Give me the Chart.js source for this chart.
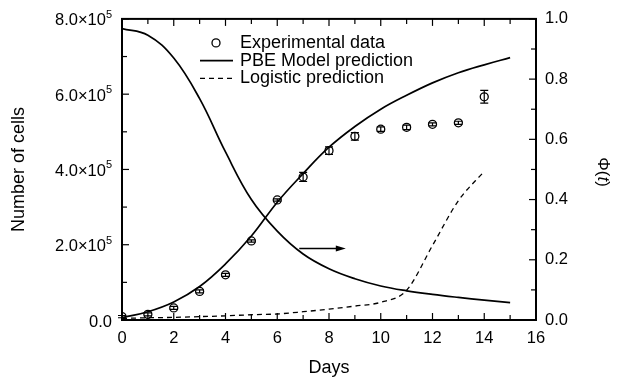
<!DOCTYPE html>
<html>
<head>
<meta charset="utf-8">
<script src="https://cdn.jsdelivr.net/npm/chart.js@4.4.1/dist/chart.umd.min.js"></script>
<style>
  html, body { margin: 0; padding: 0; background: #fff; }
  #chart-canvas { display: block; }
</style>
</head>
<body>
<canvas id="chart-canvas" width="618" height="380"></canvas>
<script>
// measured cell counts (mean and error) per day
const days = [0, 1, 2, 3, 4, 5, 6, 7, 8, 9, 10, 11, 12, 13, 14];
const cellsMean = [9000, 15000, 32000, 76000, 120000, 210000, 319000, 380000, 450000, 488000, 507000, 512000, 520000, 524000, 593000];
const cellsErr = [3000, 4000, 4000, 4000, 4000, 3000, 3000, 12000, 10000, 10000, 6000, 6000, 4000, 4000, 17000];

// PBE model and Phi(t) curves
const modelDays = [0, 1, 2, 3, 4, 5, 6, 7, 8, 9, 10, 11, 12, 13, 14, 15];
const pbeCells = [6000, 22000, 48000, 89000, 149000, 223000, 313000, 389000, 459000, 514000, 560000, 597000, 630000, 657000, 678000, 697000];
const phiValues = [0.968, 0.946, 0.87, 0.735, 0.558, 0.40, 0.295, 0.219, 0.17, 0.137, 0.113, 0.097, 0.085, 0.075, 0.066, 0.058];

// logistic fit
const logisticDays = [0, 1, 2, 3, 4, 5, 6, 7, 8, 9, 10, 11, 12, 13, 14];
const logisticCells = [4000, 6000, 7000, 9000, 11000, 14000, 16000, 22000, 29000, 37000, 47000, 79000, 198000, 317000, 395000];

// axis ticks
const cellTicks = [0, 200000, 400000, 600000, 800000];
const dayTicks = [0, 2, 4, 6, 8, 10, 12, 14, 16];
const phiTicks = [0, 0.2, 0.4, 0.6, 0.8, 1.0];

// arrow pointing at the right-hand axis
const arrowFrom = 6.85, arrowTo = 8.65, arrowLevel = 190000;

const FONT = '"Liberation Sans", Arial, Helvetica, sans-serif';

const pts = (xs, ys) => xs.map((x, i) => ({ x: x, y: ys[i] }));

const frameAndTicks = {
  id: 'frameAndTicks',
  afterDatasetsDraw(chart) {
    const { ctx, scales } = chart;
    const meta = chart.getDatasetMeta(0);
    ctx.save();
    ctx.strokeStyle = '#000';
    ctx.lineWidth = 1.2;
    meta.data.forEach((p, i) => {
      const top = scales.y.getPixelForValue(cellsMean[i] + cellsErr[i]);
      const bot = scales.y.getPixelForValue(cellsMean[i] - cellsErr[i]);
      ctx.beginPath();
      ctx.moveTo(p.x, top); ctx.lineTo(p.x, bot);
      ctx.moveTo(p.x - 4, top); ctx.lineTo(p.x + 4, top);
      ctx.moveTo(p.x - 4, bot); ctx.lineTo(p.x + 4, bot);
      ctx.stroke();
    });

    // arrow
    const ay = scales.y.getPixelForValue(arrowLevel);
    const ax0 = scales.x.getPixelForValue(arrowFrom);
    const ax1 = scales.x.getPixelForValue(arrowTo);
    ctx.lineWidth = 1.3;
    ctx.beginPath();
    ctx.moveTo(ax0, ay); ctx.lineTo(ax1 - 8, ay);
    ctx.stroke();
    ctx.fillStyle = '#000';
    ctx.beginPath();
    ctx.moveTo(ax1, ay); ctx.lineTo(ax1 - 10, ay - 3); ctx.lineTo(ax1 - 10, ay + 3);
    ctx.closePath();
    ctx.fill();
    ctx.restore();
  },
  afterDraw(chart) {
    const { ctx, chartArea: a, scales } = chart;
    ctx.save();
    ctx.strokeStyle = '#000';
    ctx.fillStyle = '#000';
    ctx.lineWidth = 1.2;
    const seg = (x0, y0, x1, y1) => { ctx.beginPath(); ctx.moveTo(x0, y0); ctx.lineTo(x1, y1); ctx.stroke(); };

    for (let d = 0; d <= 16; d++) {
      const x = scales.x.getPixelForValue(d);
      const len = d % 2 === 0 ? 7 : 5;
      seg(x, a.bottom, x, a.bottom - len);
      seg(x, a.top, x, a.top + len);
    }
    for (let v = 0; v <= 800000; v += 100000) {
      const y = scales.y.getPixelForValue(v);
      seg(a.left, y, a.left + (v % 200000 === 0 ? 7 : 5), y);
    }
    for (let k = 0; k <= 10; k++) {
      const y = scales.y2.getPixelForValue(k / 10);
      seg(a.right, y, a.right - (k % 2 === 0 ? 7 : 5), y);
    }
    ctx.lineWidth = 2;
    ctx.strokeRect(a.left, a.top, a.right - a.left, a.bottom - a.top);

    // left tick labels, mantissa x 10^5
    ctx.textBaseline = 'middle';
    cellTicks.forEach(v => {
      const y = scales.y.getPixelForValue(v) + 2;
      const right = a.left - 10;
      if (v === 0) {
        ctx.font = '16.5px ' + FONT;
        ctx.textAlign = 'right';
        ctx.fillText('0.0', right, y);
        return;
      }
      ctx.font = '11px ' + FONT;
      ctx.textAlign = 'right';
      ctx.fillText('5', right, y - 6);
      const ew = ctx.measureText('5').width;
      ctx.font = '16.5px ' + FONT;
      ctx.fillText((v / 100000).toFixed(1) + '×10', right - ew, y);
    });

    // right axis title
    ctx.save();
    ctx.translate(603, 172);
    ctx.rotate(Math.PI / 2);
    ctx.textAlign = 'left';
    const parts = [['Φ(', 'normal'], ['t', 'italic'], [')', 'normal']];
    let w = 0;
    parts.forEach(([s, st]) => { ctx.font = st + ' 17px ' + FONT; w += ctx.measureText(s).width; });
    let x = -w / 2;
    parts.forEach(([s, st]) => {
      ctx.font = st + ' 17px ' + FONT;
      ctx.fillText(s, x, 0);
      x += ctx.measureText(s).width;
    });
    ctx.restore();

    // legend
    const lx = a.left + 78, ly = a.top + 24, row = 17.7;
    ctx.font = '18px ' + FONT;
    ctx.textAlign = 'left';
    chart.data.datasets.slice(0, 3).forEach((ds, i) => {
      const y = ly + i * row;
      ctx.fillText(ds.label, lx + 40, y);
      ctx.lineWidth = ds.borderWidth;
      ctx.setLineDash(ds.borderDash || []);
      if (i === 0) {
        ctx.beginPath();
        ctx.arc(lx + 16, y, 4, 0, Math.PI * 2);
        ctx.stroke();
      } else {
        seg(lx, y, lx + 33, y);
      }
      ctx.setLineDash([]);
    });
    ctx.restore();
  }
};

const chart = new Chart(document.getElementById('chart-canvas'), {
  type: 'line',
  data: {
    datasets: [
      {
        label: 'Experimental data',
        data: pts(days, cellsMean),
        showLine: false,
        pointStyle: 'circle',
        pointRadius: 4,
        borderColor: '#000',
        backgroundColor: 'rgba(0,0,0,0)',
        borderWidth: 1.3,
        yAxisID: 'y'
      },
      {
        label: 'PBE Model prediction',
        data: pts(modelDays, pbeCells),
        borderColor: '#000',
        borderWidth: 1.7,
        pointRadius: 0,
        tension: 0.4,
        yAxisID: 'y'
      },
      {
        label: 'Logistic prediction',
        data: pts(logisticDays, logisticCells),
        borderColor: '#000',
        borderWidth: 1.3,
        borderDash: [5, 4],
        pointRadius: 0,
        cubicInterpolationMode: 'monotone',
        yAxisID: 'y'
      },
      {
        label: 'Phi',
        data: pts(modelDays, phiValues),
        borderColor: '#000',
        borderWidth: 1.7,
        pointRadius: 0,
        tension: 0.4,
        yAxisID: 'y2'
      }
    ]
  },
  options: {
    responsive: false,
    animation: false,
    devicePixelRatio: 1,
    layout: { padding: { top: 17, left: 0, right: 0, bottom: 0 } },
    plugins: { legend: { display: false }, tooltip: { enabled: false } },
    scales: {
      x: {
        type: 'linear',
        min: 0,
        max: 16,
        afterBuildTicks: s => { s.ticks = dayTicks.map(v => ({ value: v })); },
        afterFit: s => { s.height = 60; },
        grid: { display: false, drawTicks: false },
        border: { display: false },
        ticks: { color: '#000', padding: 9, font: { family: FONT, size: 16.5 } },
        title: { display: true, text: 'Days', color: '#000', padding: { top: 0, bottom: 1 }, font: { family: FONT, size: 18 } }
      },
      y: {
        position: 'left',
        min: 0,
        max: 800000,
        afterBuildTicks: s => { s.ticks = cellTicks.map(v => ({ value: v })); },
        afterFit: s => { s.width = 122; },
        grid: { display: false, drawTicks: false },
        border: { display: false },
        ticks: { display: false },
        title: { display: true, text: 'Number of cells', color: '#000', padding: { top: 8, bottom: 0 }, font: { family: FONT, size: 18 } }
      },
      y2: {
        position: 'right',
        min: 0,
        max: 1,
        afterBuildTicks: s => { s.ticks = phiTicks.map(v => ({ value: v })); },
        afterFit: s => { s.width = 82; },
        grid: { display: false, drawTicks: false },
        border: { display: false },
        ticks: { color: '#000', padding: 9, font: { family: FONT, size: 16.5 }, callback: v => v.toFixed(1) }
      }
    }
  },
  plugins: [frameAndTicks]
});
</script>
</body>
</html>
